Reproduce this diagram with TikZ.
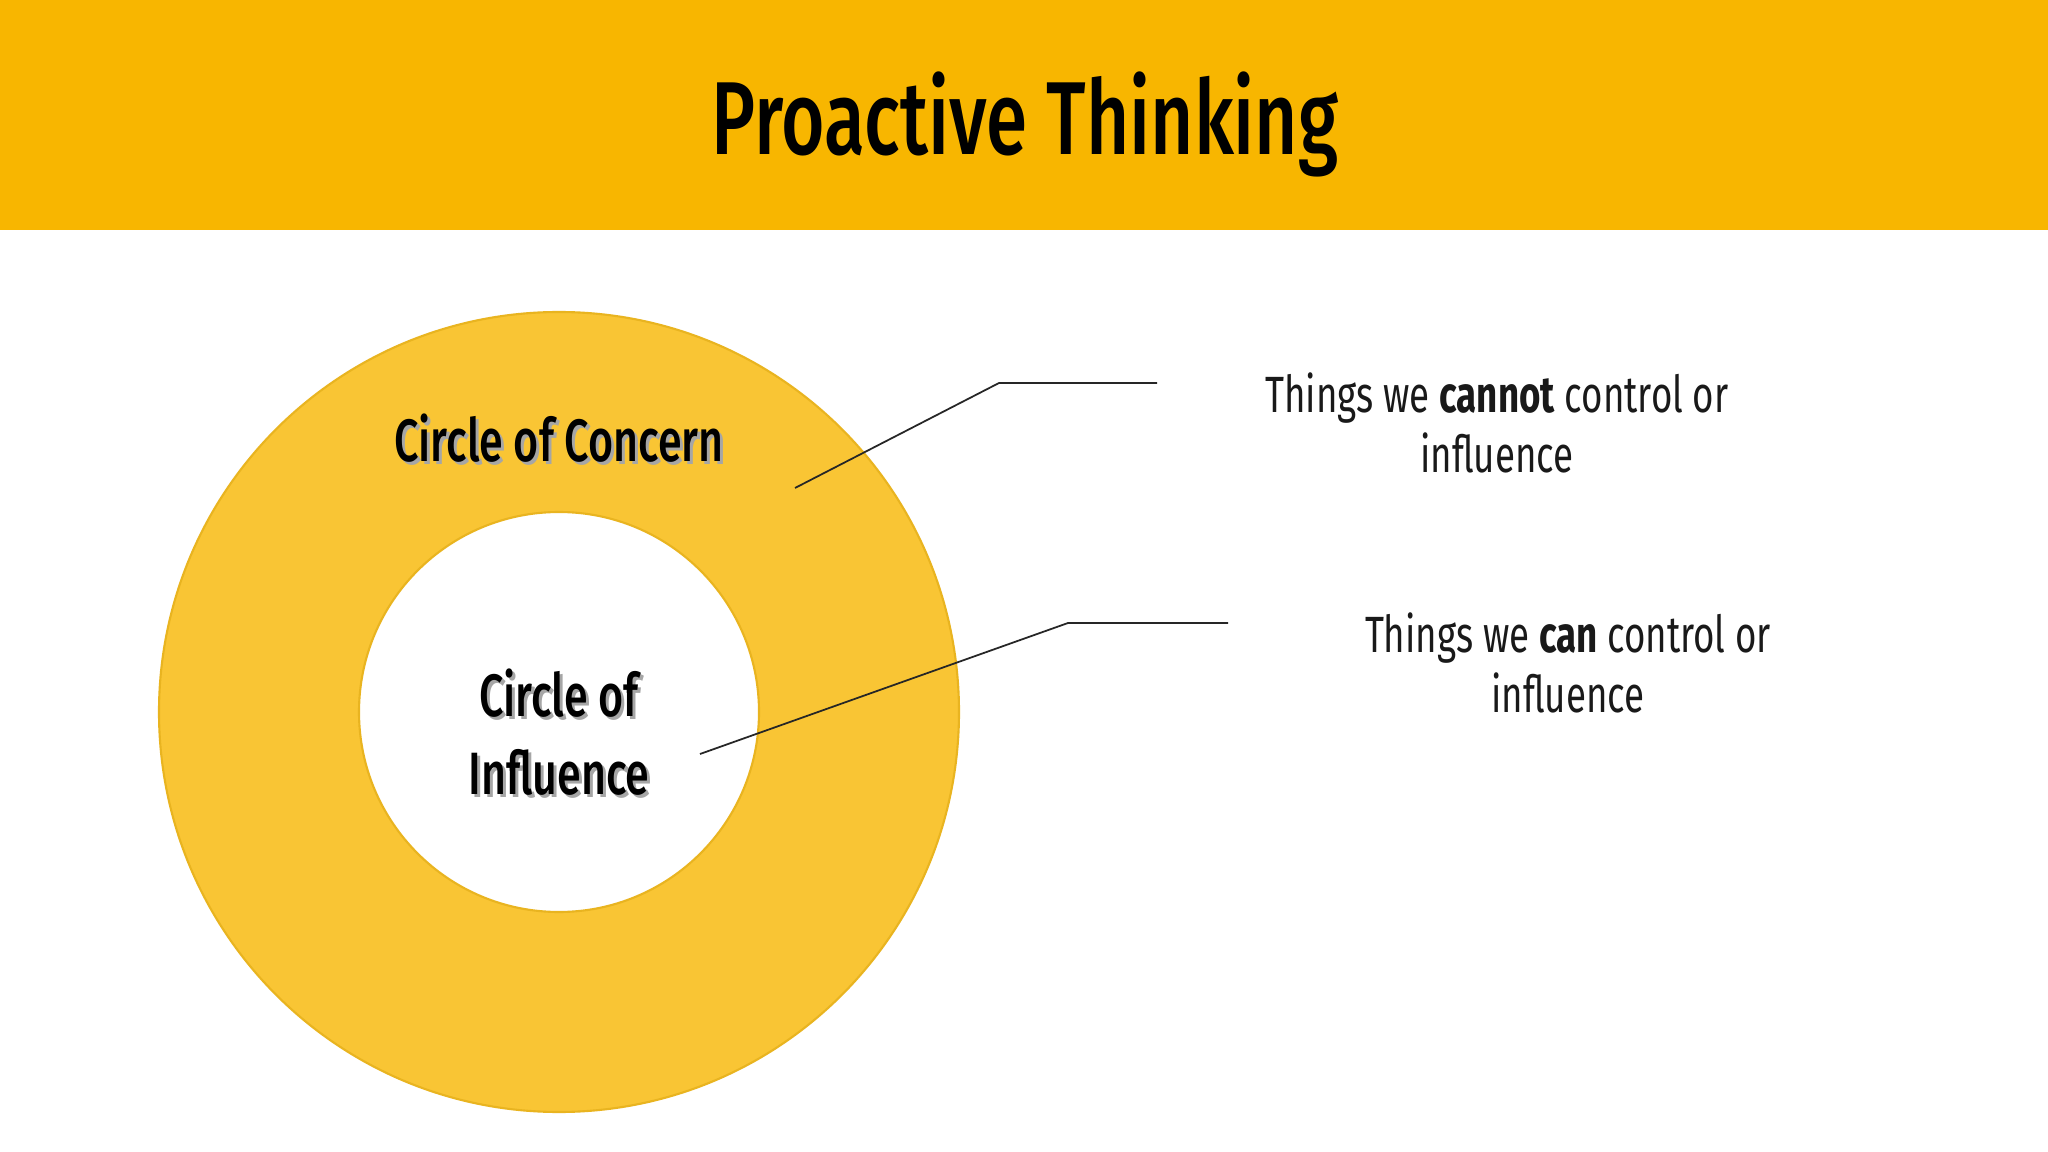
\documentclass[tikz,border=0pt]{standalone}
\usepackage{fontspec}
\setmainfont[FakeStretch=0.72]{Fira Sans}
\newfontfamily\titlef[FakeStretch=0.72]{Fira Sans Medium}
\newfontfamily\circf[FakeStretch=0.72]{Fira Sans Medium}
\definecolor{hdr}{HTML}{F8B600}
\definecolor{ring}{HTML}{F9C534}
\definecolor{ringb}{HTML}{E9B420}
\tikzset{lbl/.style={align=center,font=\fontsize{14.5pt}{17pt}\selectfont,text=black!90},
 clbl/.style={align=center,font=\circf\fontsize{17pt}{22pt}\selectfont},
 lead/.style={draw=black!85,line width=0.5pt}}
\begin{document}
\begin{tikzpicture}[x=0.01cm,y=-0.01cm]
\useasboundingbox (0,0) rectangle (2048,1152);
\fill[white] (0,0) rectangle (2048,1152);
\fill[hdr] (0,0) rectangle (2048,230);
\node[font=\titlef\fontsize{29.5pt}{34pt}\selectfont] (title) at (1025,124) {Proactive Thinking};
\fill[ring,draw=ringb,line width=0.6pt,even odd rule] (559,712) circle (400) (559,712) circle (200);
\node[clbl,text=black!35] at (562,441) {Circle of Concern};
\node[clbl] (concern) at (559,438) {Circle of Concern};
\node[clbl,text=black!35] at (562,735) {Circle of\\Influence};
\node[clbl] (influence) at (559,732) {Circle of\\Influence};
\coordinate (a1) at (795,488); \coordinate (a2) at (999,383); \coordinate (a3) at (1157,383);
\coordinate (b1) at (700,754); \coordinate (b2) at (1068,623); \coordinate (b3) at (1228,623);
\draw[lead] (a1) -- (a2) -- (a3);
\draw[lead] (b1) -- (b2) -- (b3);
\node[lbl] (t1) at (1497,423) {Things we \textbf{cannot} control or\\influence};
\node[lbl] (t2) at (1568,663) {Things we \textbf{can} control or\\influence};
\end{tikzpicture}
\end{document}
